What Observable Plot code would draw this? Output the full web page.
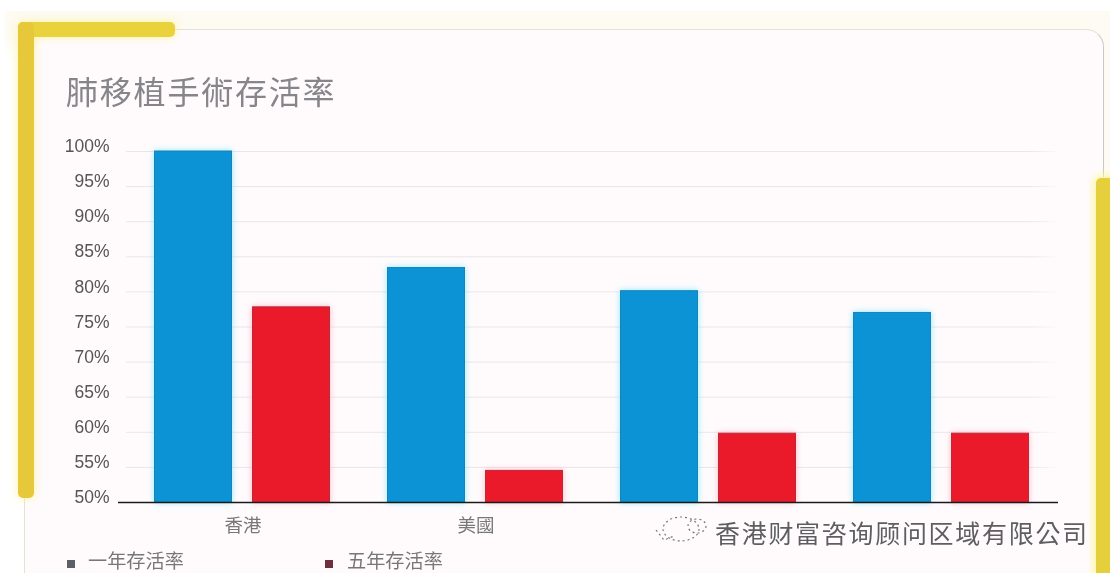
<!DOCTYPE html>
<html><head><meta charset="utf-8">
<script src="https://cdn.jsdelivr.net/npm/d3@7"></script>
<script src="https://cdn.jsdelivr.net/npm/@observablehq/plot@0.6"></script>
<style>
html,body{margin:0;padding:0;background:#fff;overflow:hidden}
#stage{position:relative;width:1110px;height:573px;overflow:hidden;background:#fff;font-family:"Noto Sans CJK TC","Liberation Sans",sans-serif}
#stage>*{position:absolute}
#cream{left:5px;top:11px;right:0;height:50px;background:linear-gradient(to bottom,#fdfbf2 50%,#fff)}
#creamR{left:1085px;top:11px;right:0;bottom:0;background:#fdfbf4}
#panel{left:24px;top:29px;width:1080px;height:600px;background:#fffbfd;border:1.5px solid #e4e2d2;border-radius:18px 18px 0 0;box-sizing:border-box;border-right-color:#c9c9c2}
#fade{left:1030px;top:140px;width:32px;height:345px;background:linear-gradient(to right,rgba(255,251,253,0),#fffbfd)}
#bracket{left:18px;top:22px;width:157px;height:476px;box-sizing:border-box;overflow:visible;filter:drop-shadow(0 0 5px #fff3a0)}
#bracket i{position:absolute;display:block;border-radius:5px}
#yellowR{left:1096px;top:178px;width:20px;height:400px;border-radius:5px 0 0 0;background:#e6cf3c;box-shadow:0 0 7px 3px #fff7a8}
#title{left:66px;top:68px;font-size:32px;line-height:44px;letter-spacing:1.8px;color:#85858a;font-weight:400;white-space:nowrap;filter:blur(.6px)}
.leg{top:550px;font-size:19.2px;line-height:21px;color:#77777a;white-space:nowrap;filter:blur(.5px)}
.sw{top:560px;width:8px;height:8px}
#mark{left:715px;top:514px;font-size:25px;line-height:36px;letter-spacing:1.7px;color:#5e5e62;white-space:nowrap;text-shadow:1px 0 0 #fff;filter:blur(.4px)}
#chart svg{display:block;background:transparent;overflow:visible}
#chart{left:0;top:0;filter:blur(.45px)}
</style></head><body>
<div id="stage">
  <div id="cream"></div><div id="creamR"></div><div id="panel"></div>
  <div id="chart"></div>
  <div id="fade"></div>
  <div id="bracket">
    <i style="left:0;top:0;width:157px;height:15px;background:#ead23c"></i>
    <i style="left:0;top:0;width:16px;height:476px;background:#e6c83a"></i>
  </div>
  <div id="yellowR"></div>
  <div id="title"></div>
  <div class="sw" style="left:67px;background:#5b5f66"></div>
  <div class="leg" id="leg0" style="left:88px"></div>
  <div class="sw" style="left:325px;background:#6e2f3e"></div>
  <div class="leg" id="leg1" style="left:347px"></div>
  <svg style="left:654px;top:516px" width="60" height="32" fill="none" stroke="#77777a" stroke-width="1.2" stroke-dasharray="2 3">
    <ellipse cx="27" cy="13" rx="18" ry="12"/><ellipse cx="43" cy="10" rx="9" ry="7"/><path d="M2 14 L10 24 L20 20"/>
  </svg>
  <div id="mark"></div>
</div>
<script>
const titleText = "肺移植手術存活率";
const markText = "香港财富咨询顾问区域有限公司";
// The 3rd and 4th category names are hidden by the watermark in the reference and cannot be read,
// so they are left blank rather than guessed.
const categories = ["香港", "美國", "", " "];
const seriesNames = ["一年存活率", "五年存活率"];
const oneYear = [100, 83.4, 80.1, 77];
const fiveYear = [77.8, 54.5, 59.8, 59.8];
const yTicks = [50, 55, 60, 65, 70, 75, 80, 85, 90, 95, 100];
const colors = ["#0b93d6", "#ea1a2a"];

const rows = categories.flatMap((c, i) => [
  {category: c, series: seriesNames[0], value: oneYear[i]},
  {category: c, series: seriesNames[1], value: fiveYear[i]}
]);

document.getElementById("title").textContent = titleText;
document.getElementById("mark").textContent = markText;
document.getElementById("leg0").textContent = seriesNames[0];
document.getElementById("leg1").textContent = seriesNames[1];

const barsFor = (name, edge, glow) => Plot.barY(rows.filter(r => r.series === name), {
  fx: "category", x: "series", y1: () => 50, y2: "value", fill: "series",
  stroke: edge, strokeWidth: 1, insetLeft: 0.5, insetRight: 0.5,
  imageFilter: `drop-shadow(0 0 3px ${glow})`
});

const plot = Plot.plot({
  width: 1110, height: 573,
  marginLeft: 125, marginRight: 52, marginTop: 151, marginBottom: 71,
  style: {fontFamily: '"Noto Sans CJK TC","Liberation Sans",sans-serif', background: "transparent"},
  fx: {domain: categories, padding: 0, label: null, axis: null},
  x: {domain: seriesNames, paddingInner: 0.204, paddingOuter: 0.29, axis: null},
  y: {domain: [50, 100], label: null, axis: null},
  color: {domain: seriesNames, range: colors},
  marks: [
    Plot.ruleY(yTicks.slice(1), {stroke: "#e9e6ea", strokeWidth: 1}),
    barsFor(seriesNames[0], "#1c82b6", "rgba(110,230,255,.8)"),
    barsFor(seriesNames[1], "#b82a3c", "rgba(255,170,180,.8)"),
    Plot.ruleY(categories.slice(1), {fx: d => d, y: () => 50, stroke: "#1a1a1a", strokeWidth: 1.6}),
    Plot.ruleY(categories.slice(0, 1), {fx: d => d, y: () => 50, stroke: "#1a1a1a", strokeWidth: 1.6,
      insetLeft: -8}),
    Plot.axisY({ticks: yTicks, tickSize: 0, tickPadding: 0, label: null, anchor: "left",
      tickFormat: d => d + "%", fontSize: 17.5, fontFamily: '"Liberation Sans",sans-serif',
      fill: "#555", dy: -5, dx: -17, facetAnchor: "left"}),
    Plot.axisFx({anchor: "bottom", tickSize: 0, tickPadding: 16, label: null, fontSize: 18.5, fill: "#777"})
  ]
});
document.getElementById("chart").appendChild(plot);
</script>
</body></html>
